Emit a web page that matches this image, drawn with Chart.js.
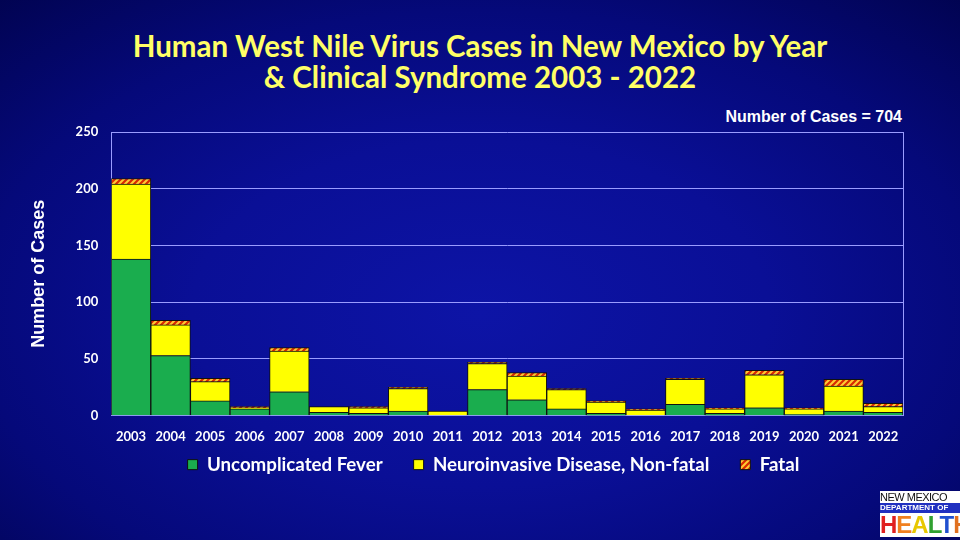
<!DOCTYPE html>
<html>
<head>
<meta charset="utf-8">
<script src="https://cdn.jsdelivr.net/npm/chart.js@4"></script>
<style>
  html, body { margin: 0; padding: 0; }
  body {
    width: 960px; height: 540px; overflow: hidden; position: relative;
    background: radial-gradient(ellipse 75% 80% at 50% 58%, #0d14a6 0%, #0a0f96 40%, #05097a 70%, #010350 100%);
  }
  #wrap { position: absolute; left: 0; top: 0; width: 960px; height: 540px; }
  #title {
    position: absolute; left: 0; top: 30px; width: 960px; text-align: center;
    font-family: Lato, "Open Sans", sans-serif; font-weight: bold; font-size: 29.5px;
    line-height: 31px; color: #ffff66;
  }
  #count {
    position: absolute; right: 58px; top: 108px;
    font-family: "Liberation Sans", Arial, sans-serif; font-weight: bold; font-size: 16px; color: #fff;
  }
  #logo { position: absolute; left: 880px; top: 491px; width: 80px; font-family: "Liberation Sans", Arial, sans-serif; }
  #logo .a { background: #fff; color: #111; font-size: 11px; line-height: 12px; letter-spacing: -0.5px; white-space: nowrap; }
  #logo .b { background: #2030c0; color: #fff; font-size: 8px; line-height: 10px; font-weight: bold; white-space: nowrap; }
  #logo .c { background: #fff; font-size: 24px; line-height: 24px; font-weight: bold; white-space: nowrap; letter-spacing: -1px; }
</style>
</head>
<body>
<div id="title">Human West Nile Virus Cases in New Mexico by Year<br>&amp; Clinical Syndrome 2003 - 2022</div>
<div id="count">Number of Cases = 704</div>
<div id="wrap"><canvas id="myChart" width="960" height="540"></canvas></div>
<div id="logo">
  <div class="a">NEW MEXICO</div>
  <div class="b">DEPARTMENT OF</div>
  <div class="c"><span style="color:#e02020">H</span><span style="color:#f08020">E</span><span style="color:#e8c800">A</span><span style="color:#30a030">L</span><span style="color:#2050d0">T</span><span style="color:#e07020">H</span></div>
</div>
<script>
const years = ['2003','2004','2005','2006','2007','2008','2009','2010','2011','2012',
  '2013','2014','2015','2016','2017','2018','2019','2020','2021','2022'];
const fever = [138, 53, 13, 6, 21, 3, 2, 4, 0, 23, 14, 6, 2, 0, 10, 2, 7, 1, 4, 3];
const neuro = [66, 27, 17, 1, 36, 5, 5, 20, 4, 23, 21, 17, 10, 5, 22, 4, 29, 5, 22, 5];
const fatal = [5, 4, 3, 1, 3, 0, 1, 1, 0, 1, 3, 1, 1, 1, 1, 1, 4, 1, 6, 3];
const yTicks = [0, 50, 100, 150, 200, 250];

// red / yellow diagonal hatch for the fatal cases
function makeHatch() {
  const c = document.createElement('canvas');
  c.width = 6; c.height = 6;
  const g = c.getContext('2d');
  g.fillStyle = '#ffcc33';
  g.fillRect(0, 0, 6, 6);
  g.strokeStyle = '#d82a00';
  g.lineWidth = 2.2;
  g.beginPath();
  g.moveTo(-1, 7); g.lineTo(7, -1);
  g.moveTo(-1, 1); g.lineTo(1, -1);
  g.moveTo(5, 7); g.lineTo(7, 5);
  g.stroke();
  return g.createPattern(c, 'repeat');
}
const hatch = makeHatch();

// right border of the plot, and nudge the legend up / right like the slide
const plotFrame = {
  id: 'plotFrame',
  afterLayout(chart) {
    const l = chart.legend;
    l.top -= 25;
    l.bottom -= 25;
    l.left += 30;
    l.right += 30;
  },
  beforeDatasetsDraw(chart) {
    const a = chart.chartArea, ctx = chart.ctx;
    ctx.save();
    ctx.strokeStyle = '#9a9cff';
    ctx.lineWidth = 1;
    ctx.beginPath();
    ctx.moveTo(Math.round(a.right) + 0.5, a.top);
    ctx.lineTo(Math.round(a.right) + 0.5, a.bottom);
    ctx.stroke();
    ctx.restore();
  }
};

const ctx = document.getElementById('myChart');
new Chart(ctx, {
  type: 'bar',
  data: {
    labels: years,
    datasets: [{
      label: 'Uncomplicated Fever',
      data: fever,
      backgroundColor: '#1aad4e',
      borderColor: '#111',
      borderWidth: 1
    },
    {
      label: 'Neuroinvasive Disease, Non-fatal',
      data: neuro,
      backgroundColor: '#ffff00',
      borderColor: '#111',
      borderWidth: 1
    },
    {
      label: 'Fatal',
      data: fatal,
      backgroundColor: hatch,
      borderColor: '#111',
      borderWidth: 1
    }]
  },
  options: {
    responsive: false,
    animation: false,
    layout: { padding: { left: 24, right: 57, top: 132, bottom: 31 } },
    datasets: { bar: { barPercentage: 1, categoryPercentage: 1 } },
    plugins: {
      legend: {
        position: 'bottom',
        labels: {
          color: '#fff',
          boxWidth: 10,
          boxHeight: 10,
          padding: 31,
          font: { family: 'Lato', weight: 'bold', size: 18.7 }
        }
      },
      tooltip: { enabled: false }
    },
    scales: {
      x: {
        stacked: true,
        grid: { display: false },
        border: { color: '#9a9cff' },
        ticks: { color: '#fff', padding: 5, font: { family: 'Lato', weight: 'bold', size: 13 }, maxRotation: 0, autoSkip: false }
      },
      y: {
        stacked: true,
        min: 0,
        max: 250,
        afterBuildTicks(axis) { axis.ticks = yTicks.map(v => ({ value: v })); },
        grid: { color: '#9a9cff', drawTicks: false },
        border: { color: '#9a9cff' },
        ticks: { color: '#fff', padding: 13, font: { family: 'Lato', weight: 'bold', size: 13 } },
        title: {
          display: true,
          text: 'Number of Cases',
          color: '#fff',
          padding: { bottom: 13 },
          font: { family: 'Liberation Sans', weight: 'bold', size: 18 }
        }
      }
    }
  },
  plugins: [plotFrame]
});
</script>
</body>
</html>
